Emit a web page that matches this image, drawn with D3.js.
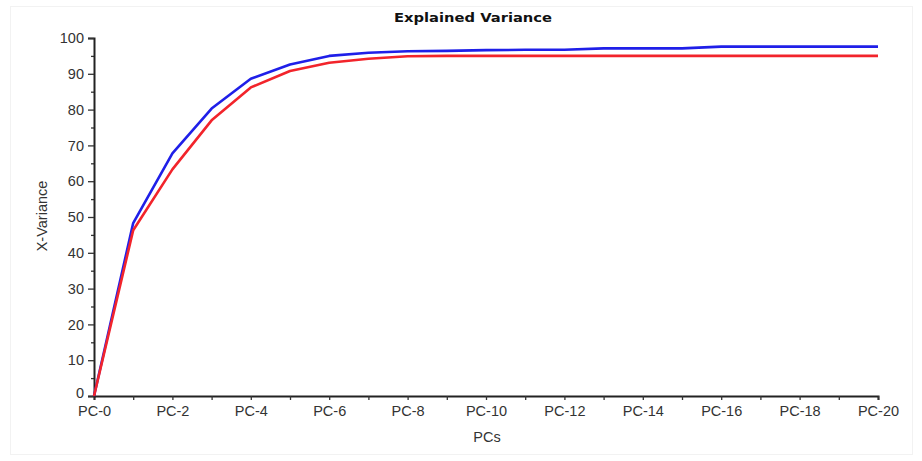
<!DOCTYPE html>
<html>
<head>
<meta charset="utf-8">
<script src="https://cdn.jsdelivr.net/npm/d3@7"></script>
<style>
  html, body { margin: 0; padding: 0; background: #fff; }
  svg { display: block; }
  .tick text { font-family: "Liberation Sans", Arial, sans-serif; font-size: 14.5px; fill: #333; }
</style>
</head>
<body>
<svg id="chart" width="922" height="461"></svg>
<script>
// Principal components on the x axis
const components = d3.range(0, 21).map(i => "PC-" + i);
const xTickLabels = ["PC-0","PC-2","PC-4","PC-6","PC-8","PC-10","PC-12","PC-14","PC-16","PC-18","PC-20"];
const yTickValues = [0,10,20,30,40,50,60,70,80,90,100];

// Cumulative explained X-variance (%)
const calibrationVariance = [0, 48.3, 67.8, 80.3, 88.6, 92.6, 95.0, 95.9, 96.3, 96.4, 96.6,
                             96.7, 96.7, 97.1, 97.1, 97.1, 97.6, 97.6, 97.6, 97.6, 97.6];
const validationVariance  = [0, 46.3, 63.3, 77.0, 86.2, 90.8, 93.1, 94.2, 94.9, 95.0, 95.0,
                             95.0, 95.0, 95.0, 95.0, 95.0, 95.0, 95.0, 95.0, 95.0, 95.0];

// blue drawn first so the red curve sits on top where they meet
const seriesList = [
  { name: "Calibration", values: calibrationVariance, color: "#1f1fe8" },
  { name: "Validation", values: validationVariance, color: "#f2242b" }
];

const svg = d3.select("#chart");
const margin = { left: 94, right: 44, top: 38, bottom: 65 };
const W = 922, H = 461;

// faint outer frame
svg.append("rect")
  .attr("x", 10.5).attr("y", 6.5).attr("width", 902).attr("height", 448)
  .attr("fill", "none").attr("stroke", "#f2f2f2");

const x = d3.scalePoint().domain(components).range([margin.left, W - margin.right]);
const y = d3.scaleLinear().domain([0, 100]).range([H - margin.bottom, margin.top]);

// title
svg.append("text")
  .attr("x", 473).attr("y", 22)
  .attr("text-anchor", "middle")
  .attr("font-family", "'DejaVu Sans', sans-serif")
  .attr("font-weight", "bold")
  .attr("font-size", 13)
  .attr("textLength", 158)
  .attr("lengthAdjust", "spacingAndGlyphs")
  .attr("fill", "#111")
  .text("Explained Variance");

// x axis
const xAxis = d3.axisBottom(x)
  .tickSize(4)
  .tickPadding(6)
  .tickFormat(d => xTickLabels.includes(d) ? d : "");
const gx = svg.append("g")
  .attr("transform", `translate(0,${y(0)})`)
  .call(xAxis);
gx.select(".domain").attr("stroke", "#222").attr("stroke-width", 2);
gx.selectAll(".tick line").attr("stroke", "#333").attr("stroke-width", 1.3);

// y axis minor ticks
const gyMinor = svg.append("g")
  .attr("transform", `translate(${x("PC-0")},0)`)
  .call(d3.axisLeft(y).tickValues(d3.range(5, 100, 10)).tickSize(3).tickFormat(""));
gyMinor.select(".domain").remove();
gyMinor.selectAll(".tick line").attr("stroke", "#333").attr("stroke-width", 1.3);

// y axis
const gy = svg.append("g")
  .attr("transform", `translate(${x("PC-0")},0)`)
  .call(d3.axisLeft(y).tickValues(yTickValues).tickSize(6).tickPadding(4));
gy.select(".domain").attr("stroke", "#222").attr("stroke-width", 2);
gy.selectAll(".tick line").attr("stroke", "#333").attr("stroke-width", 1.3);
// lift the zero label clear of the PC-0 label below it
gy.selectAll(".tick text").filter(d => d === 0).attr("dy", "0.1em");

// axis titles
svg.append("text")
  .attr("x", 487).attr("y", 442)
  .attr("text-anchor", "middle")
  .attr("font-family", "'Liberation Sans', Arial, sans-serif")
  .attr("font-size", 14.5).attr("fill", "#333")
  .text("PCs");
svg.append("text")
  .attr("transform", "translate(47,216) rotate(-90)")
  .attr("text-anchor", "middle")
  .attr("font-family", "'Liberation Sans', Arial, sans-serif")
  .attr("font-size", 14.5).attr("fill", "#333")
  .text("X-Variance");

// variance curves
const line = d3.line()
  .x((d, i) => x(components[i]))
  .y(d => y(d));

svg.selectAll("path.series")
  .data(seriesList)
  .join("path")
  .attr("class", "series")
  .attr("d", s => line(s.values))
  .attr("fill", "none")
  .attr("stroke", s => s.color)
  .attr("stroke-width", 2.6)
  .attr("stroke-linejoin", "round");
</script>
</body>
</html>
